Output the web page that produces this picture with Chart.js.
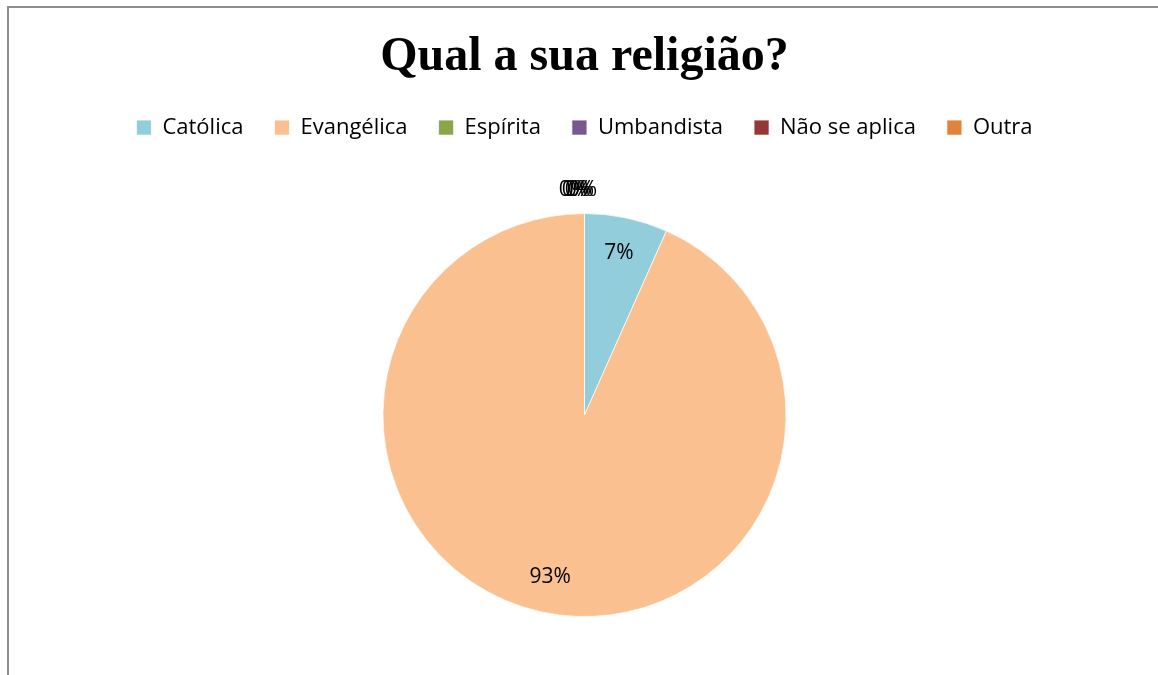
<!DOCTYPE html>
<html>
<head>
<meta charset="utf-8">
<script src="https://cdn.jsdelivr.net/npm/chart.js@4"></script>
<style>
  html, body { margin: 0; padding: 0; background: #fff; }
  #wrap { position: relative; width: 1158px; height: 675px; overflow: hidden; }
  #frame { position: absolute; left: 7px; top: 6px; width: 1300px; height: 800px;
           border-left: 2px solid #8e8e8e; border-top: 2px solid #8e8e8e; }
  canvas { position: absolute; left: 0; top: 0; }
</style>
</head>
<body>
<div id="wrap">
  <div id="frame"></div>
  <canvas id="myChart" width="1158" height="700"></canvas>
</div>
<script>
const categories = ["Católica", "Evangélica", "Espírita", "Umbandista", "Não se aplica", "Outra"];
const respostas = [2, 28, 0, 0, 0, 0];
const cores = ["#92CDDC", "#FAC090", "#8AA64B", "#77598F", "#953735", "#E0843C"];

const labelFont = "Open Sans";

// rótulos de porcentagem em cada fatia (os de valor zero ficam fora, no topo)
const percentLabels = {
    id: 'percentLabels',
    afterDatasetsDraw(chart) {
        const ctx = chart.ctx;
        const meta = chart.getDatasetMeta(0);
        const total = respostas.reduce((a, b) => a + b, 0);
        ctx.save();
        ctx.font = "21px '" + labelFont + "'";
        ctx.fillStyle = "#000";
        ctx.textAlign = "center";
        ctx.textBaseline = "middle";
        let zeroCount = 0;
        meta.data.forEach((arc, i) => {
            const v = respostas[i];
            const txt = Math.round(v / total * 100) + "%";
            let ang, r, dx = 0;
            if (v === 0) {
                ang = arc.startAngle;
                r = arc.outerRadius + 24;
                dx = -2 - 3 * zeroCount;
                zeroCount++;
            } else {
                ang = (arc.startAngle + arc.endAngle) / 2;
                r = arc.outerRadius * 0.82;
            }
            const x = arc.x + Math.cos(ang) * r + dx;
            const y = arc.y + Math.sin(ang) * r;
            ctx.fillText(txt, x, y);
        });
        ctx.restore();
    }
};

const ctx = document.getElementById('myChart');

new Chart(ctx, {
    type: 'pie',
    data: {
        labels: categories,
        datasets: [{
            data: respostas,
            backgroundColor: cores,
            borderColor: "rgba(255,255,255,0.7)",
            borderWidth: 1,
            radius: 201.5
        }]
    },
    options: {
        responsive: false,
        animation: false,
        layout: {
            padding: { left: 11, right: 0, top: 0, bottom: 18.5 }
        },
        plugins: {
            title: {
                display: true,
                text: "Qual a sua religião?",
                color: "#000",
                font: { family: "Liberation Serif", size: 48, weight: "bold" },
                padding: { top: 29, bottom: -1 }
            },
            legend: {
                position: 'top',
                labels: {
                    color: "#000",
                    font: { family: labelFont, size: 22 },
                    boxWidth: 15,
                    boxHeight: 15,
                    padding: 31
                }
            },
            tooltip: { enabled: false }
        }
    },
    plugins: [percentLabels]
});
</script>
</body>
</html>
